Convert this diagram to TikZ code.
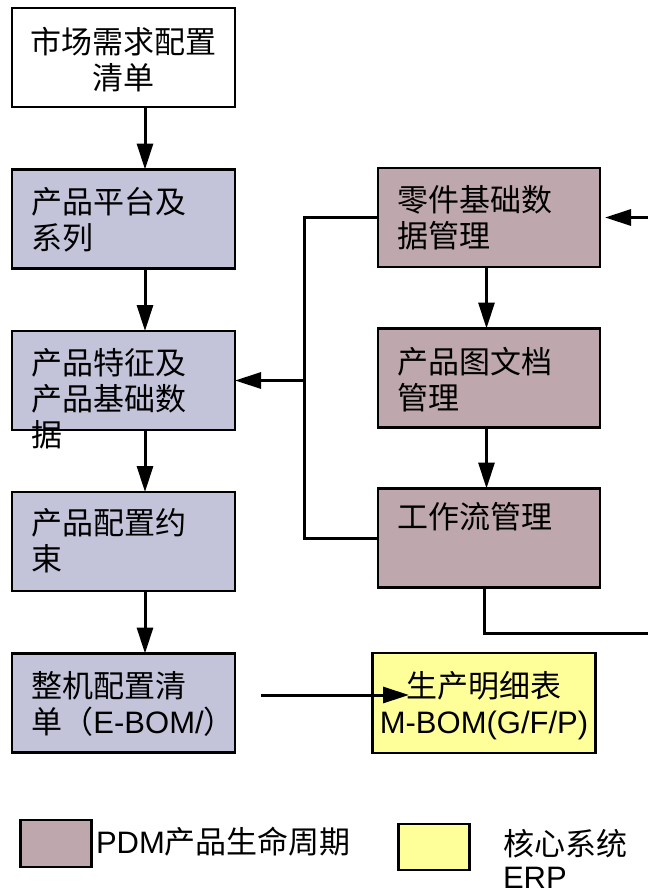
\documentclass[tikz,border=0pt]{standalone}
\usepackage{fontspec}
\setmainfont{Liberation Sans}
\newfontfamily\cjk{Noto Sans CJK SC}
\usetikzlibrary{arrows.meta}
\definecolor{bluegray}{RGB}{195,196,218}
\definecolor{mauve}{RGB}{191,168,173}
\definecolor{lyellow}{RGB}{255,255,153}
\begin{document}
\begin{tikzpicture}[x=1pt,y=-1pt,
  box/.style={draw, line width=2.9pt, minimum width=223pt, minimum height=99pt, inner sep=0pt, outer sep=0pt},
  lbox/.style={draw, line width=2.9pt, minimum width=71pt, minimum height=47pt, inner sep=0pt, outer sep=0pt},
  txt/.style={inner sep=0pt, outer sep=0pt, font=\fontsize{31}{36}\selectfont\cjk, align=left},
  ctxt/.style={txt, align=center},
  arr/.style={line width=3pt, -{Triangle[length=26pt,width=16pt]}},
  ln/.style={line width=3pt}]
\useasboundingbox (0,0) rectangle (648,895);
% left column
\node[box, fill=white] (b1) at (123.5,57.5) {};
\node[box, fill=bluegray] (b2) at (123.5,219) {};
\node[box, fill=bluegray] (b3) at (123.5,380.5) {};
\node[box, fill=bluegray] (b4) at (123.5,541.5) {};
\node[box, fill=bluegray] (b5) at (123.5,703) {};
% right column
\node[box, fill=mauve, minimum width=222pt] (r1) at (489,217.5) {};
\node[box, fill=mauve, minimum width=222pt] (r2) at (489,378) {};
\node[box, fill=mauve, minimum width=222pt] (r3) at (489,538) {};
\node[box, fill=lyellow, minimum height=100pt] (y1) at (484,703) {};
% texts (base anchor = baseline of last line)
\node[ctxt, anchor=base] (t1) at ([yshift=-81pt]b1.north) {市场需求配置\\清单};
\node[txt, anchor=base west] (t2) at ([xshift=19.5pt,yshift=-80pt]b2.north west) {产品平台及\\系列};
\node[txt, anchor=base west] (t3) at ([xshift=19.5pt,yshift=-115pt]b3.north west) {产品特征及\\产品基础数\\据};
\node[txt, anchor=base west] (t4) at ([xshift=19.5pt,yshift=-78pt]b4.north west) {产品配置约\\束};
\node[txt, anchor=base west] (t5) at ([xshift=19.5pt,yshift=-80pt]b5.north west) {整机配置清\\单（{\rmfamily E-BOM/}）};
\node[txt, anchor=base west] (tr1) at ([xshift=19pt,yshift=-79pt]r1.north west) {零件基础数\\据管理};
\node[txt, anchor=base west] (tr2) at ([xshift=19pt,yshift=-81pt]r2.north west) {产品图文档\\管理};
\node[txt, anchor=base west] (tr3) at ([xshift=19pt,yshift=-40pt]r3.north west) {工作流管理};
\node[ctxt, anchor=base] (ty) at ([yshift=-80pt]y1.north) {生产明细表\\{\rmfamily M-BOM(G/F/P)}};
% coordinates
\coordinate (ax) at (145,0);
\coordinate (rx) at (486.5,0);
\coordinate (rx2) at (484,0);
\coordinate (jx) at (304,0);
\coordinate (jm) at (304,380.5);
\coordinate (rin) at (648,217.5);
\coordinate (rout) at (648,633);
\coordinate (ys) at (261,695);
\coordinate (ye) at (409,695);
% connectors
\draw[arr] (b1.south -| ax) -- (b2.north -| ax);
\draw[arr] (b2.south -| ax) -- (b3.north -| ax);
\draw[arr] (b3.south -| ax) -- (b4.north -| ax);
\draw[arr] (b4.south -| ax) -- (b5.north -| ax);
\draw[arr] (r1.south -| rx) -- (r2.north -| rx);
\draw[arr] (r2.south -| rx) -- (r3.north -| rx);
\draw[ln] (r1.west) -- (r1.west -| jx) -- (r3.west -| jx) -- (r3.west);
\draw[arr] (jm) -- (b3.east);
\draw[arr, shorten >=5pt] (rin) -- (r1.east);
\draw[ln] (r3.south -| rx2) |- (rout);
\draw[arr] (ys) -- (ye);
% legend
\node[lbox, fill=mauve] (l1) at (56,843.5) {};
\node[txt, anchor=base west] (lt1) at (96,853) {{\rmfamily PDM}产品生命周期};
\node[lbox, fill=lyellow, minimum height=46pt] (l2) at (434,847) {};
\node[txt, anchor=base west] (lt2) at (503,888) {核心系统\\[-3pt]{\rmfamily ERP}};
\end{tikzpicture}
\end{document}
